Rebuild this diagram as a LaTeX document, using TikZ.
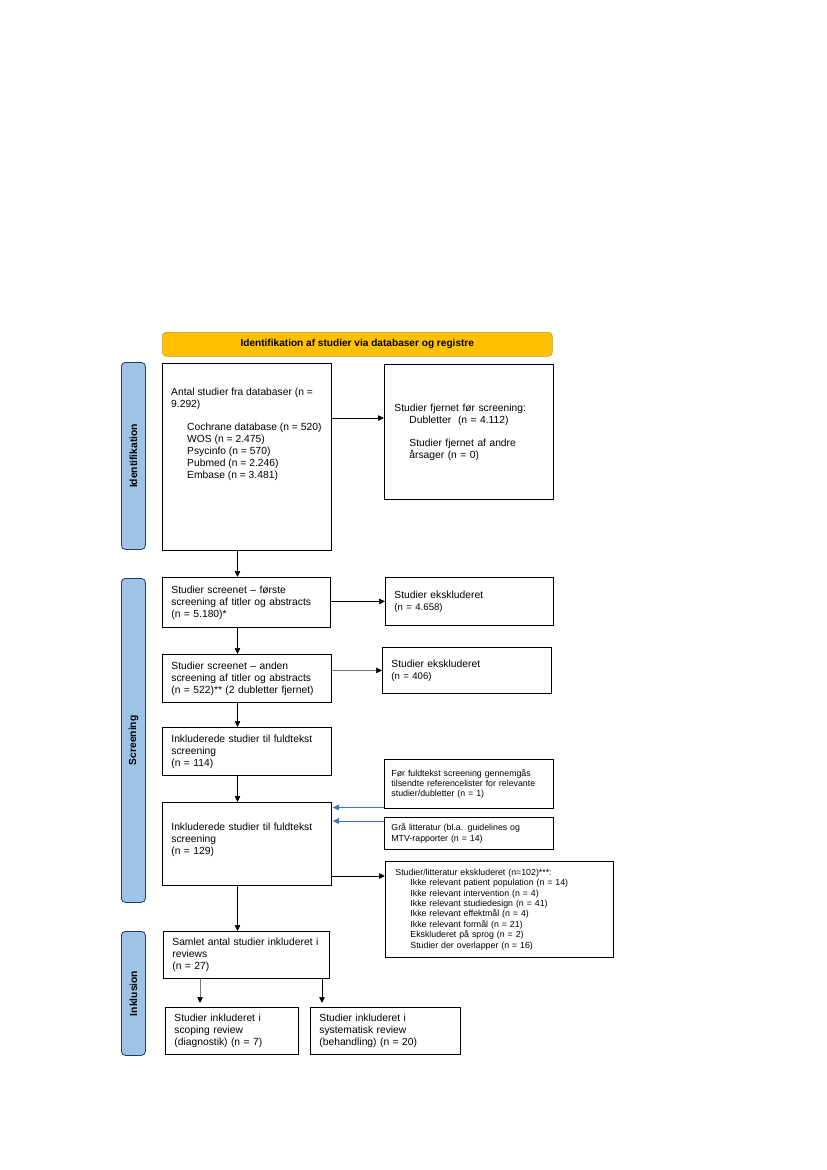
\documentclass[tikz,border=0pt]{standalone}
\usepackage{fontspec}
\setmainfont{Liberation Sans}
\usetikzlibrary{arrows.meta}
\definecolor{hdrfill}{HTML}{FFC000}
\definecolor{hdrline}{HTML}{C99A2E}
\definecolor{sidefill}{HTML}{9DC3E6}
\definecolor{sideline}{HTML}{243A5E}
\definecolor{bluearr}{HTML}{4472C4}
\begin{document}
\begin{tikzpicture}[x=1pt,y=-1pt,
  box/.style={draw=black, line width=0.8pt, align=left, inner xsep=9pt, inner ysep=0pt,
    anchor=north west, font=\fontsize{10.3}{12}\selectfont},
  smallbox/.style={box, font=\fontsize{8.8}{10.4}\selectfont},
  sidebar/.style={draw=sideline, line width=0.8pt, fill=sidefill, rounded corners=4pt,
    anchor=north west, minimum width=24pt, inner sep=0pt},
  sidelabel/.style={rotate=90, font=\bfseries\fontsize{10.3}{12}\selectfont},
  arr/.style={-{Triangle[length=6pt,width=5.5pt]}, line width=0.7pt, black},
  grayarr/.style={line width=0.5pt, draw=black!55, -{Triangle[length=6pt,width=5.5pt,fill=black,color=black]}},
  bluearrow/.style={-{Triangle[length=6pt,width=5.5pt]}, line width=0.7pt, draw=bluearr, fill=bluearr}
]
\path[use as bounding box] (0,0) rectangle (827,1170);

% header
\node[draw=hdrline, line width=0.6pt, fill=hdrfill, rounded corners=4pt, anchor=north west,
  minimum width=390pt, minimum height=24pt, inner sep=0pt,
  font=\bfseries\fontsize{10.1}{12}\selectfont] (hdr) at (162,332)
  {Identifikation af studier via databaser og registre};

% side bars
\node[sidebar, minimum height=187pt] (sb1) at (121,362) {};
\node[sidelabel] (sb1t) at (sb1.center) {Identifikation};
\node[sidebar, minimum height=324pt] (sb2) at (121,578) {};
\node[sidelabel] (sb2t) at (sb2.center) {Screening};
\node[sidebar, minimum height=124pt] (sb3) at (121,931) {};
\node[sidelabel] (sb3t) at (sb3.center) {Inklusion};

% identification
\node[box, minimum height=187pt, text width=151pt] (b1) at (162,363) {};
\node[anchor=north west, inner sep=0pt, align=left, font=\fontsize{10.3}{12}\selectfont] (b1t) at (171,388)
  {Antal studier fra databaser (n =\\ 9.292)\\[11pt]
   \hspace*{16pt}Cochrane database (n = 520)\\
   \hspace*{16pt}WOS (n = 2.475)\\
   \hspace*{16pt}Psycinfo (n = 570)\\
   \hspace*{16pt}Pubmed (n = 2.246)\\
   \hspace*{16pt}Embase (n = 3.481)};
\node[box, minimum height=135pt, inner xsep=10pt, text width=149pt] (rem) at (384,364)
  {Studier fjernet før screening:\\
   \hspace*{15pt}Dubletter\ \ (n = 4.112)\\[11pt]
   \hspace*{15pt}Studier fjernet af andre\\
   \hspace*{15pt}årsager (n = 0)};

% screening
\node[box, minimum height=50pt, text width=150pt] (b2) at (162,577)
  {Studier screenet – første\\ screening af titler og abstracts\\ (n = 5.180)*};
\node[box, minimum height=48pt, text width=150pt] (ex1) at (385,577)
  {Studier ekskluderet\\ {\fontsize{9.6}{12}\selectfont (n = 4.658)}};
\node[box, minimum height=48pt, text width=151pt] (b3) at (162,654)
  {Studier screenet – anden\\ screening af titler og abstracts\\ (n = 522)** (2 dubletter fjernet)};
\node[box, minimum height=46pt, text width=151pt] (ex2) at (382,647)
  {Studier ekskluderet\\ {\fontsize{9.6}{12}\selectfont (n = 406)}};
\node[box, minimum height=48pt, text width=151pt] (b4) at (162,727)
  {Inkluderede studier til fuldtekst\\ screening\\ (n = 114)};
\node[box, minimum height=83pt, text width=151pt] (b5) at (162,802)
  {Inkluderede studier til fuldtekst\\ screening\\ (n = 129)\\[-2pt]\mbox{}};
\node[smallbox, minimum height=49pt, text width=155pt, inner xsep=7pt] (sa) at (384,759)
  {Før fuldtekst screening gennemgås\\ tilsendte referencelister for relevante\\ studier/dubletter (n = 1)};
\node[smallbox, minimum height=32pt, text width=155pt, inner xsep=7pt] (sbx) at (384,817)
  {Grå litteratur (bl.a. guidelines og\\ MTV-rapporter (n = 14)};
\node[smallbox, minimum height=96pt, text width=208pt, inner xsep=10pt] (ex3) at (385,861)
  {Studier/litteratur ekskluderet (n=102)***:\\
   \hspace*{15pt}Ikke relevant patient population (n = 14)\\
   \hspace*{15pt}Ikke relevant intervention (n = 4)\\
   \hspace*{15pt}Ikke relevant studiedesign (n = 41)\\
   \hspace*{15pt}Ikke relevant effektmål (n = 4)\\
   \hspace*{15pt}Ikke relevant formål (n = 21)\\
   \hspace*{15pt}Ekskluderet på sprog (n = 2)\\
   \hspace*{15pt}Studier der overlapper (n = 16)};

% inclusion
\node[box, minimum height=47pt, text width=148pt] (b6) at (163,931)
  {Samlet antal studier inkluderet i\\ reviews\\ (n = 27)};
\node[box, minimum height=47pt, text width=115pt] (b7) at (165,1007)
  {Studier inkluderet i\\ scoping review\\ (diagnostik) (n = 7)};
\node[box, minimum height=47pt, text width=132pt] (b8) at (310,1007)
  {Studier inkluderet i\\ systematisk review\\ (behandling) (n = 20)};

% connector coordinates
\coordinate (ax) at (237.5,0);
\coordinate (y1) at (0,418);
\coordinate (ya) at (0,807.5);
\coordinate (yb) at (0,821);
\coordinate (y5) at (0,876);
\coordinate (x7) at (200,0);
\coordinate (x8) at (322,0);

% connectors
\draw[arr] (b1.south -| ax) -- (b2.north -| ax);
\draw[arr] (b1.east |- y1) -- (rem.west |- y1);
\draw[arr] (b2.east |- ex1.west) -- (ex1.west);
\draw[arr] (b2.south -| ax) -- (b3.north -| ax);
\draw[grayarr] (b3.east |- ex2.west) -- (ex2.west);
\draw[arr] (b3.south -| ax) -- (b4.north -| ax);
\draw[arr] (b4.south -| ax) -- (b5.north -| ax);
\draw[bluearrow] (sa.west |- ya) -- ([xshift=1pt]b5.east |- ya);
\draw[bluearrow] (sbx.west |- yb) -- ([xshift=1pt]b5.east |- yb);
\draw[arr] (b5.east |- y5) -- (ex3.west |- y5);
\draw[arr] (b5.south -| ax) -- (b6.north -| ax);
\draw[grayarr, shorten >=4pt] (b6.south -| x7) -- (b7.north -| x7);
\draw[arr, shorten >=4pt] (b6.south -| x8) -- (b8.north -| x8);
\end{tikzpicture}
\end{document}
